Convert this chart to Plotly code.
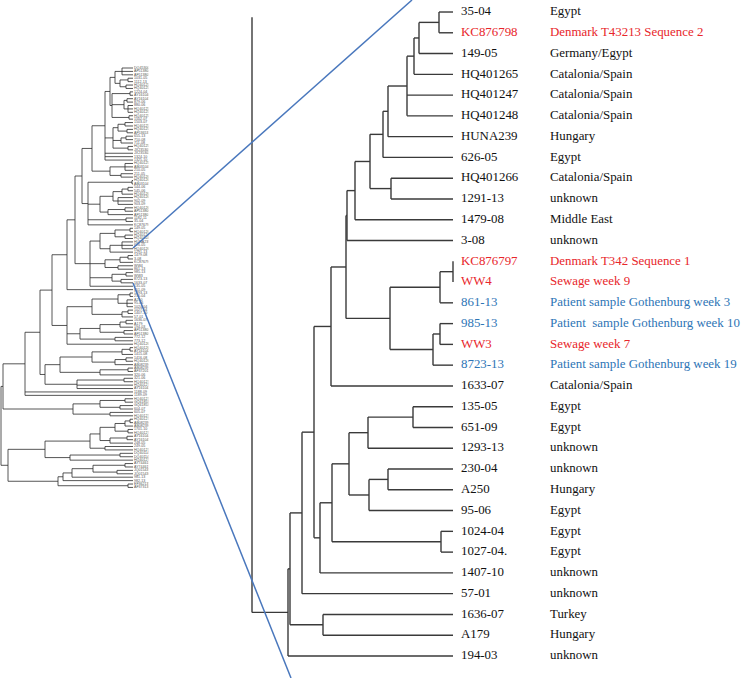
import plotly.graph_objects as go

# ---------------- DATA ----------------
# Zoomed subtree (right): Newick with branch lengths (arbitrary distance units)
right_newick = """
(
 (
  (
   (
    (
     (
      (((((((((35-04:14,KC876798:14):20,149-05:34):5,HQ401265:39):7,HQ401247:46,HQ401248:46):19,HUNA239:65):5,626-05:70):13,(HQ401266:62,1291-13:62):21):15,1479-08:98):8,3-08:106):1,
      (((KC876797:0,WW4:0):13,861-13:13):50,((985-13:13,WW3:13):7,8723-13:20):43):44
     ):15,
     1633-07:122
    ):17,
    (
     (
      (((135-05:40,651-09:40):45,1293-13:85):19,((230-04:65,A250:65):19,95-06:84):20):17,
      (1024-04:12,1027-04.:12):109
     ):12,
     1407-10:133
    ):6
   ):12,
   57-01:151
  ):12,
  (1636-07:130,A179:130):33
 ):2,
 194-03:165
):36;
"""

right_tip_origin = {
    "35-04": "Egypt", "KC876798": "Denmark T43213 Sequence 2", "149-05": "Germany/Egypt",
    "HQ401265": "Catalonia/Spain", "HQ401247": "Catalonia/Spain", "HQ401248": "Catalonia/Spain",
    "HUNA239": "Hungary", "626-05": "Egypt", "HQ401266": "Catalonia/Spain", "1291-13": "unknown",
    "1479-08": "Middle East", "3-08": "unknown", "KC876797": "Denmark T342 Sequence 1",
    "WW4": "Sewage week 9", "861-13": "Patient sample Gothenburg week 3",
    "985-13": "Patient  sample Gothenburg week 10", "WW3": "Sewage week 7",
    "8723-13": "Patient sample Gothenburg week 19", "1633-07": "Catalonia/Spain",
    "135-05": "Egypt", "651-09": "Egypt", "1293-13": "unknown", "230-04": "unknown",
    "A250": "Hungary", "95-06": "Egypt", "1024-04": "Egypt", "1027-04.": "Egypt",
    "1407-10": "unknown", "57-01": "unknown", "1636-07": "Turkey", "A179": "Hungary",
    "194-03": "unknown",
}
red_tips = ["KC876798", "KC876797", "WW4", "WW3"]
blue_tips = ["861-13", "985-13", "8723-13"]

# Full tree (left thumbnail): topology with node heights (distance from root); '*' = tip
left_newick = """
(
 (
  (
   (
    (
     (
      (
       (
        (
         ((((*,*,*)122,((*,*)128,(*,*)126)120)115,((*,*)130,((*,*)127,(*,*,*)128)124,(*,*)129)112)110,
          (((*,*)125,(*,*)127)118,((*,*)126,*)121,(*,*)128)113,*,*,*)105,
         ((*,*,*)125,(*,*)121)110
        )92,
        ((*,*)132,((((*,*)128,*)122,(*,*,*)118)113,((*,*)125,*)108)100,(*,*)126,*)88
       )82,
       ((((*,*)130,(*,*)125)115,((*,*,*)122,*)110)100,(((*,*)128,*)120,(*,*)118)105,((*,*)126,(*,*)121)112,*)90
      )75,
      *
     )67,
     ((((*,*)130,(*,*,*)127)118,((*,*)128,*)122)92,((((*,*)126,*)120,(*,*)124)100,(*,*)115)80,*)67
    )52,
    (((((*,*)130,*)122,((*,*)126,*)115)92,((*,*)128,*)100)60,((*,*)124,*,*)77)45
   )40,
   *,*
  )25,
  (((*,*)125,(*,*)120)100,(*,*)110)73
 )3,
 (
  ((((((*,*)130,*)125,(*,*)128)115,((*,*)127,*)110)100,(*,*)105)90,((*,*)120,*)70)45,
  (((((*,*)125,(*,*)117)93,*)72,*)63,(*,*)128)58
 )8
)1;
"""
left_tip_height = 133

left_tip_labels = """
DQ453004 AF513804 AF513805 1031-05 1112-13 HQ401251 HQ401252 1224-04 AY161040 AY161041
879-06 880-06 HQ401253 HQ401254 HQ401255 1502-07 1503-07 HQ401256 HQ401257 AF536531
655-13 710-08 711-08 HQ401258 JX235301 JX235302 1324-10 1325-10 HQ401259 AB031048
210-05 211-05 HQ401260 HQ401261 AB031049 544-06 545-06 HQ401262 HQ401263 902-09
903-09 HQ401264 AF513806 AF513807 1182-11 35-04 KC876798 149-05 HQ401265 HQ401247
HQ401248 HUNA239 626-05 HQ401266 1291-13 1479-08 3-08 KC876797 WW4 861-13
985-13 WW3 8723-13 1633-07 135-05 651-09 1293-13 230-04 A250 95-06
1024-04 1027-04 1407-10 57-01 1636-07 A179 194-03 AF513808 AF513809 772-12
773-12 HQ401267 HQ401268 AY161042 1415-08 1416-08 HQ401269 AB082396 AB082397 AF372011
320-06 321-06 HQ401270 HQ401271 AY161043 1188-09 1189-09 HQ401272 GQ418536 GQ418537
604-07 605-07 HQ401273 HQ401274 AB082398 AB082399 1701-10 HQ401275 AY161044 AY161045
248-05 249-05 HQ401276 DQ401141 DQ401142 HQ401277 AY744618 AY744619 JQ015435 JQ015436
981-13 982-13 EF362135 AF373138
""".split()


# ---------------- HELPERS ----------------
def parse_newick(text):
    s = "".join(text.split()).rstrip(";")
    pos = 0

    def node():
        nonlocal pos
        n = {"children": [], "name": "", "len": None}
        if s[pos] == "(":
            pos += 1
            while True:
                n["children"].append(node())
                if s[pos] == ",":
                    pos += 1
                    continue
                if s[pos] == ")":
                    pos += 1
                    break
        start = pos
        while pos < len(s) and s[pos] not in "(),:;":
            pos += 1
        n["name"] = s[start:pos]
        if pos < len(s) and s[pos] == ":":
            pos += 1
            start = pos
            while pos < len(s) and s[pos] not in "(),;":
                pos += 1
            n["len"] = float(s[start:pos])
        return n

    return node()


def layout_tree(root, mode, tip_height=None, tip_names=None):
    """Returns line coords (x, y), tips list [(name, x, y)], root (x, y)."""
    xs, ys, tips = [], [], []
    counter = [0]

    def rec(n, parent_x):
        if mode == "branch":
            x = parent_x + (n["len"] or 0.0)
        else:
            x = float(n["name"]) if n["children"] else tip_height
        if not n["children"]:
            y = counter[0]
            counter[0] += 1
            name = tip_names[y] if tip_names is not None else n["name"]
            tips.append((name, x, y))
            return x, y
        kids = [rec(c, x) for c in n["children"]]
        y = (kids[0][1] + kids[-1][1]) / 2.0
        xs.extend([x, x, None])
        ys.extend([kids[0][1], kids[-1][1], None])
        for cx, cy in kids:
            xs.extend([x, cx, None])
            ys.extend([cy, cy, None])
        return x, y

    if mode == "branch":
        rx, ry = rec(root, -(root["len"] or 0.0))
    else:
        rx, ry = rec(root, 0.0)
    return xs, ys, tips, (rx, ry)


# ---------------- BUILD ----------------
W, H = 742, 678
serif = "Liberation Serif, Times New Roman, serif"
line_col = "#3a3a3a"
red = "#e8262b"
blue = "#2e75b6"
zoom_blue = "#4a78bd"
label_size = 12.9

fig = go.Figure()

# Left overview tree
lt = parse_newick(left_newick)
lxs, lys, ltips, lroot = layout_tree(lt, "height", tip_height=left_tip_height,
                                     tip_names=left_tip_labels)
assert len(ltips) == len(left_tip_labels), len(ltips)
fig.add_trace(go.Scatter(x=lxs, y=lys, mode="lines", xaxis="x", yaxis="y",
                         line=dict(color="#2b2b2b", width=0.8), hoverinfo="skip",
                         showlegend=False))
fig.add_trace(go.Scatter(x=[t[1] + 1 for t in ltips], y=[t[2] for t in ltips],
                         text=[t[0] for t in ltips], mode="text", textposition="middle right",
                         textfont=dict(family="Arial, Liberation Sans", size=3.6, color="#555"),
                         xaxis="x", yaxis="y", hoverinfo="skip", showlegend=False))

# Right zoomed tree
rt = parse_newick(right_newick)
rxs, rys, rtips, (r0x, r0y) = layout_tree(rt, "branch")
stem = rt["len"]
# root stem with its long vertical rule
rxs.extend([r0x - stem, r0x, None, r0x - stem, r0x - stem, None])
rys.extend([r0y, r0y, None, 0.25, r0y, None])
fig.add_trace(go.Scatter(x=rxs, y=rys, mode="lines", xaxis="x2", yaxis="y2",
                         line=dict(color=line_col, width=1.4), hoverinfo="skip",
                         showlegend=False))


def tip_color(name):
    if name in red_tips:
        return red
    if name in blue_tips:
        return blue
    return "#111111"


cols = [tip_color(t[0]) for t in rtips]
fig.add_trace(go.Scatter(x=[t[1] + 8 for t in rtips], y=[t[2] for t in rtips],
                         text=[t[0] for t in rtips], mode="text", textposition="middle right",
                         textfont=dict(family=serif, size=label_size, color=cols),
                         xaxis="x2", yaxis="y2", hoverinfo="skip", showlegend=False))
fig.add_trace(go.Scatter(x=[t[1] + 97 for t in rtips], y=[t[2] for t in rtips],
                         text=[right_tip_origin[t[0]] for t in rtips], mode="text",
                         textposition="middle right",
                         textfont=dict(family=serif, size=label_size, color=cols),
                         xaxis="x2", yaxis="y2", hoverinfo="skip", showlegend=False))

# zoom call-out lines (paper coords from pixel positions)
def px(x, y):
    return x / W, 1 - y / H

for (x0, y0), (x1, y1) in [((133, 248), (412, 0)), ((133, 283), (291, 678))]:
    a0, b0 = px(x0, y0)
    a1, b1 = px(x1, y1)
    fig.add_shape(type="line", xref="paper", yref="paper", x0=a0, y0=b0, x1=a1, y1=b1,
                  line=dict(color=zoom_blue, width=1.5))

fig.update_layout(
    width=W, height=H, margin=dict(l=0, r=0, t=0, b=0),
    paper_bgcolor="white", plot_bgcolor="white",
    xaxis=dict(domain=[0, 0.2], range=[0, 0.2 * W], visible=False, fixedrange=True),
    yaxis=dict(domain=[0, 1], range=[(H - 68) / 3.41, -68 / 3.41], visible=False,
               fixedrange=True),
    xaxis2=dict(domain=[0.3, 1], range=[-65.4, -65.4 + 0.7 * W], visible=False,
                fixedrange=True, anchor="y2"),
    yaxis2=dict(domain=[0, 1], range=[32.06, -0.578], visible=False, fixedrange=True,
                anchor="x2"),
)

fig.write_html("out.html", config={"displayModeBar": False},
               post_script="document.body.style.margin='0';document.body.style.overflow='hidden';")
